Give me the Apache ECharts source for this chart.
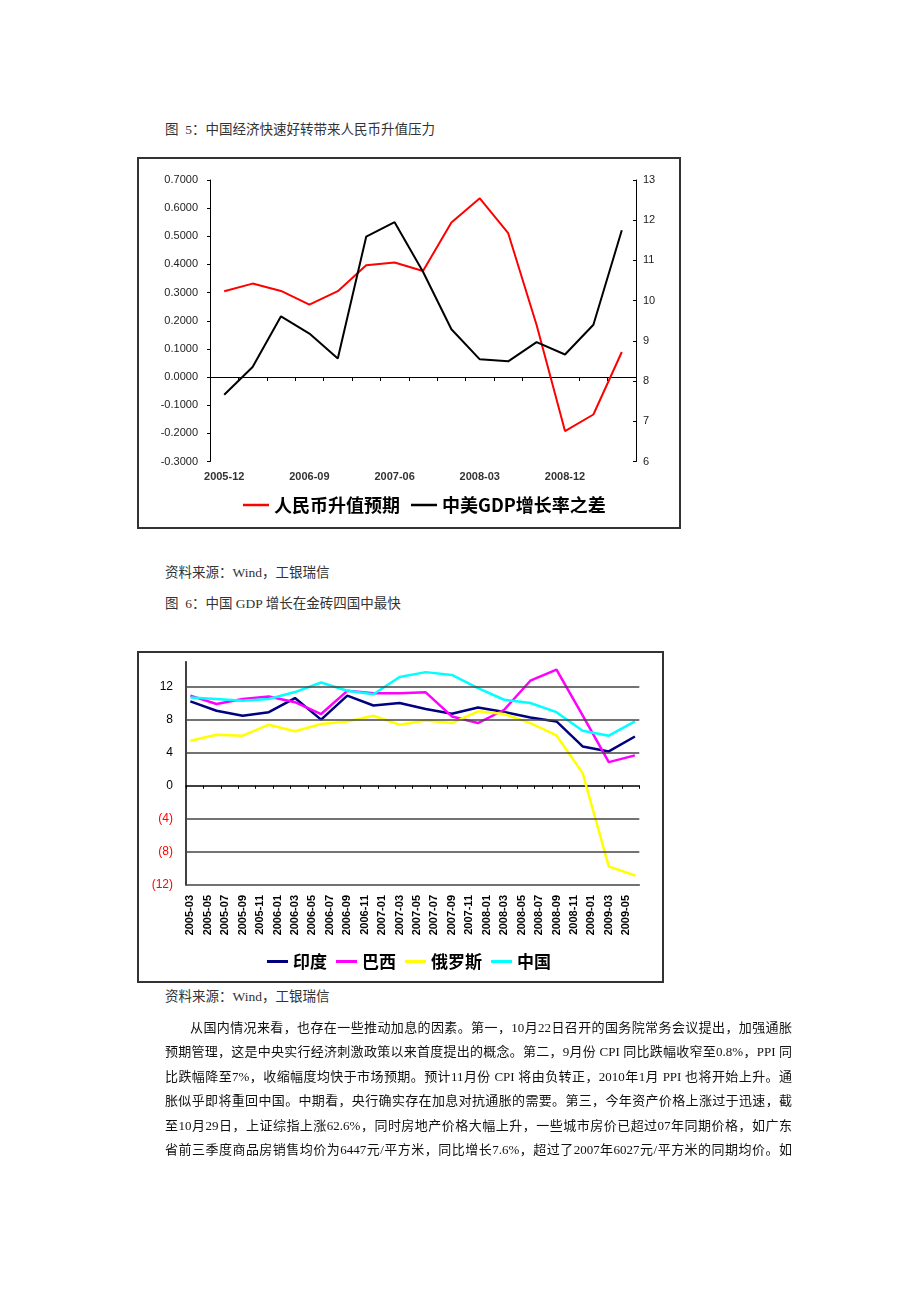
<!DOCTYPE html>
<html>
<head>
<meta charset="utf-8">
<script src="https://cdn.jsdelivr.net/npm/echarts@6/dist/echarts.min.js"></script>
<style>
  html, body { margin: 0; padding: 0; background: #fff; }
  #page { position: relative; width: 920px; height: 1302px; overflow: hidden; }
  .txt { position: absolute; font-family: "Liberation Serif", "Noto Sans CJK SC", serif; font-size: 13.5px; line-height: 20px; color: #333; white-space: nowrap; }
  .para { position: absolute; font-family: "Liberation Serif", "Noto Sans CJK SC", serif; font-size: 13px; line-height: 20px; color: #111; white-space: nowrap; text-align: justify; text-align-last: justify; text-justify: inter-character; }
  .box { position: absolute; border: 2px solid #333; box-sizing: border-box; }
  #chart { position: absolute; left: 0; top: 0; width: 920px; height: 1302px; }
</style>
</head>
<body>
<div id="page">
  <div class="txt" style="left:165px;top:120px;">图&nbsp;&nbsp;5：中国经济快速好转带来人民币升值压力</div>
  <div class="box" style="left:137px;top:157px;width:544px;height:372px;"></div>
  <div class="txt" style="left:165px;top:563px;">资料来源：Wind，工银瑞信</div>
  <div class="txt" style="left:165px;top:594px;">图&nbsp;&nbsp;6：中国 GDP 增长在金砖四国中最快</div>
  <div class="box" style="left:137px;top:651px;width:527px;height:332px;"></div>
  <div class="txt" style="left:165px;top:987px;">资料来源：Wind，工银瑞信</div>
  <div id="chart"></div>
  <div class="para" style="left:190px;top:1018px;width:602px;">从国内情况来看，也存在一些推动加息的因素。第一，10月22日召开的国务院常务会议提出，加强通胀</div>
  <div class="para" style="left:165px;top:1042px;width:627px;">预期管理，这是中央实行经济刺激政策以来首度提出的概念。第二，9月份 CPI 同比跌幅收窄至0.8%，PPI 同</div>
  <div class="para" style="left:165px;top:1067px;width:627px;">比跌幅降至7%，收缩幅度均快于市场预期。预计11月份 CPI 将由负转正，2010年1月 PPI 也将开始上升。通</div>
  <div class="para" style="left:165px;top:1091px;width:627px;">胀似乎即将重回中国。中期看，央行确实存在加息对抗通胀的需要。第三，今年资产价格上涨过于迅速，截</div>
  <div class="para" style="left:165px;top:1116px;width:627px;">至10月29日，上证综指上涨62.6%，同时房地产价格大幅上升，一些城市房价已超过07年同期价格，如广东</div>
  <div class="para" style="left:165px;top:1140px;width:627px;">省前三季度商品房销售均价为6447元/平方米，同比增长7.6%，超过了2007年6027元/平方米的同期均价。如</div>
</div>
<script>
// ---------- Chart 1 data ----------
const quarters1 = ['2005-12','2006-03','2006-06','2006-09','2006-12','2007-03','2007-06','2007-09','2007-12','2008-03','2008-06','2008-09','2008-12','2009-03','2009-06'];
const rmbExpect = [0.305, 0.332, 0.306, 0.257, 0.305, 0.397, 0.407, 0.377, 0.549, 0.635, 0.511, 0.185, -0.192, -0.133, 0.089];
const gdpDiff   = [7.66, 8.35, 9.61, 9.18, 8.56, 11.59, 11.95, 10.72, 9.29, 8.54, 8.49, 8.97, 8.66, 9.40, 11.75];
const seriesNames1 = ['人民币升值预期', '中美GDP增长率之差'];

// ---------- Chart 2 data ----------
const quarterMonths2 = ['2005-03','2005-06','2005-09','2005-12','2006-03','2006-06','2006-09','2006-12','2007-03','2007-06','2007-09','2007-12','2008-03','2008-06','2008-09','2008-12','2009-03','2009-06'];
const india  = [10.2, 9.07, 8.46, 8.9, 10.6, 8.0, 10.9, 9.7, 10.0, 9.27, 8.7, 9.47, 8.91, 8.26, 7.78, 4.75, 4.15, 5.96];
const brazil = [10.9, 9.88, 10.48, 10.8, 10.1, 8.67, 11.48, 11.2, 11.2, 11.3, 8.38, 7.58, 9.19, 12.7, 14.03, 8.5, 2.86, 3.67];
const russia = [5.44, 6.17, 6.05, 7.38, 6.6, 7.46, 7.78, 8.46, 7.38, 7.9, 7.58, 9.0, 8.67, 7.58, 6.08, 1.53, -9.75, -10.85];
const china  = [10.68, 10.48, 10.28, 10.48, 11.33, 12.49, 11.48, 11.07, 13.15, 13.74, 13.4, 11.8, 10.4, 10.0, 8.9, 6.65, 6.05, 7.78];
const seriesNames2 = ['印度', '巴西', '俄罗斯', '中国'];
const gridLevels2 = [12, 8, 4, -4, -8];

// monthly category axis for chart 2 (2005-03 .. 2009-06)
const months2 = [];
for (let y = 2005; y <= 2009; y++) {
  for (let m = 1; m <= 12; m++) {
    const s = y + '-' + String(m).padStart(2, '0');
    if (s >= '2005-03' && s <= '2009-06') months2.push(s);
  }
}
const pairs = arr => quarterMonths2.map((m, i) => [m, arr[i]]);

const sansLatin = '"Liberation Sans", Arial, sans-serif';
const cjkBold = '"Noto Sans CJK SC", sans-serif';

const chart = echarts.init(document.getElementById('chart'));
chart.setOption({
  animation: false,
  backgroundColor: 'transparent',
  grid: [
    { left: 210, top: 180, width: 426, height: 281.5 },
    { left: 186, top: 661.7, width: 453.3, height: 223.3 }
  ],
  xAxis: [
    { gridIndex: 0, type: 'category', data: quarters1, position: 'bottom',
      axisLine: { show: false, onZero: false }, axisTick: { show: false },
      splitLine: { show: false },
      axisLabel: { interval: 2, fontSize: 11, color: '#333', fontFamily: sansLatin, fontWeight: 'bold', margin: 10 } },
    { gridIndex: 0, type: 'category', data: quarters1, position: 'bottom',
      axisLine: { show: true, onZero: true, onZeroAxisIndex: 0, lineStyle: { color: '#000', width: 1 } },
      axisTick: { show: true, interval: 0, length: 4, lineStyle: { color: '#000' } },
      axisLabel: { show: false }, splitLine: { show: false } },
    { gridIndex: 1, type: 'category', data: months2, position: 'bottom',
      axisLine: { show: true, onZero: false, lineStyle: { color: '#444', width: 1.5 } },
      axisTick: { show: false }, splitLine: { show: false },
      axisLabel: { interval: 1, rotate: 90, fontSize: 11, fontWeight: 'bold', color: '#000', fontFamily: sansLatin, margin: 10 } },
    { gridIndex: 1, type: 'category', data: months2, position: 'bottom',
      axisLine: { show: true, onZero: true, lineStyle: { color: '#000', width: 1.5 } },
      axisTick: { show: true, interval: 1, length: 3, lineStyle: { color: '#000' } },
      axisLabel: { show: false }, splitLine: { show: false } }
  ],
  yAxis: [
    { gridIndex: 0, type: 'value', position: 'left', min: -0.3, max: 0.7, interval: 0.1,
      axisLine: { show: true, onZero: false, lineStyle: { color: '#000', width: 1 } },
      axisTick: { show: true, length: 3, lineStyle: { color: '#000' } },
      splitLine: { show: false },
      axisLabel: { formatter: v => v.toFixed(4), fontSize: 11, color: '#222', fontFamily: sansLatin, margin: 12 } },
    { gridIndex: 0, type: 'value', position: 'right', min: 6, max: 13, interval: 1,
      axisLine: { show: true, onZero: false, lineStyle: { color: '#000', width: 1 } },
      axisTick: { show: true, inside: true, length: 3, lineStyle: { color: '#000' } },
      splitLine: { show: false },
      axisLabel: { fontSize: 11, color: '#222', fontFamily: sansLatin, margin: 7 } },
    { gridIndex: 1, type: 'value', min: -12, max: 15, interval: 4,
      axisLine: { show: true, onZero: false, lineStyle: { color: '#000', width: 1.5 } },
      axisTick: { show: false }, splitLine: { show: false },
      axisLabel: { showMaxLabel: false, fontSize: 12, fontFamily: sansLatin, margin: 13,
        formatter: v => (v < 0 ? '(' + (-v) + ')' : String(v)),
        color: v => (Number(v) < 0 ? '#ff0000' : '#000') } }
  ],
  legend: [
    { data: seriesNames1, left: 238, top: 491, icon: 'rect', itemWidth: 26, itemHeight: 2.5, itemGap: 11,
      selectedMode: false,
      textStyle: { fontSize: 18, fontWeight: 'bold', color: '#000', fontFamily: cjkBold } },
    { data: seriesNames2, left: 262, top: 948, icon: 'rect', itemWidth: 21, itemHeight: 3, itemGap: 9,
      selectedMode: false,
      textStyle: { fontSize: 17, fontWeight: 'bold', color: '#000', fontFamily: cjkBold } }
  ],
  series: [
    { name: seriesNames1[0], type: 'line', xAxisIndex: 0, yAxisIndex: 0, data: rmbExpect,
      symbol: 'none', lineStyle: { color: '#ff0000', width: 2 }, itemStyle: { color: '#ff0000' } },
    { name: seriesNames1[1], type: 'line', xAxisIndex: 0, yAxisIndex: 1, data: gdpDiff,
      symbol: 'none', lineStyle: { color: '#000', width: 2 }, itemStyle: { color: '#000' } },
    { name: 'gridlines', type: 'line', xAxisIndex: 2, yAxisIndex: 2, data: [], z: 1,
      markLine: { silent: true, symbol: 'none', label: { show: false }, animation: false,
        lineStyle: { color: '#444', width: 1.5, type: 'solid' },
        data: gridLevels2.map(v => ({ yAxis: v })) } },
    { name: seriesNames2[0], type: 'line', xAxisIndex: 2, yAxisIndex: 2, data: pairs(india),
      symbol: 'none', lineStyle: { color: '#000080', width: 2.5 }, itemStyle: { color: '#000080' } },
    { name: seriesNames2[1], type: 'line', xAxisIndex: 2, yAxisIndex: 2, data: pairs(brazil),
      symbol: 'none', lineStyle: { color: '#ff00ff', width: 2.5 }, itemStyle: { color: '#ff00ff' } },
    { name: seriesNames2[2], type: 'line', xAxisIndex: 2, yAxisIndex: 2, data: pairs(russia),
      symbol: 'none', lineStyle: { color: '#ffff00', width: 2.5 }, itemStyle: { color: '#ffff00' } },
    { name: seriesNames2[3], type: 'line', xAxisIndex: 2, yAxisIndex: 2, data: pairs(china),
      symbol: 'none', lineStyle: { color: '#00ffff', width: 2.5 }, itemStyle: { color: '#00ffff' } }
  ]
});
</script>
</body>
</html>
